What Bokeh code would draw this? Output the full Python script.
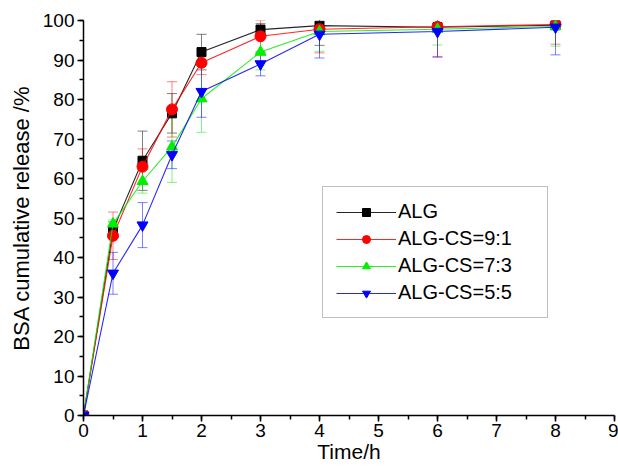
from bokeh.plotting import figure
from bokeh.models import ColumnDataSource, Whisker, TeeHead, Legend, LegendItem, FixedTicker, Range1d
from bokeh.embed import file_html
from bokeh.resources import INLINE

time_h = [0, 0.5, 1, 1.5, 2, 3, 4, 6, 8]

alg = [0, 47.0, 64.5, 76.5, 92.0, 97.7, 98.7, 98.3, 98.8]
alg_err = [0, 2.0, 7.5, 5.0, 4.5, 1.5, 5.0, 1.0, 1.0]

cs91 = [0, 45.5, 63.0, 77.5, 89.3, 96.0, 97.8, 98.4, 99.0]
cs91_err = [0, 6.0, 4.5, 7.0, 3.0, 4.0, 6.0, 7.5, 5.0]

cs73 = [0, 48.5, 59.3, 68.0, 80.2, 92.0, 97.2, 97.8, 98.5]
cs73_err = [0, 1.0, 3.0, 9.0, 8.5, 4.5, 5.0, 4.0, 5.0]

cs55 = [0, 36.0, 48.2, 66.0, 82.0, 89.0, 96.5, 97.2, 98.3]
cs55_err = [0, 5.3, 5.7, 3.5, 6.5, 3.0, 6.0, 6.5, 7.0]

series = [
    ("ALG", alg, alg_err, "#000000", "square"),
    ("ALG-CS=9:1", cs91, cs91_err, "#ff0000", "circle"),
    ("ALG-CS=7:3", cs73, cs73_err, "#00ee00", "triangle"),
    ("ALG-CS=5:5", cs55, cs55_err, "#0000ff", "inverted_triangle"),
]

FONT = "Liberation Sans"

p = figure(width=618, height=466, output_backend="svg", toolbar_location=None,
           x_range=Range1d(0, 9), y_range=Range1d(0, 100),
           min_border_left=83, min_border_right=4, min_border_top=20, min_border_bottom=51)
p.outline_line_color = None
p.xgrid.visible = False
p.ygrid.visible = False

for ax in (p.xaxis[0], p.yaxis[0]):
    ax.axis_line_color = "black"
    ax.axis_line_width = 1.5
    ax.major_tick_line_color = "black"
    ax.major_tick_line_width = 1.5
    ax.minor_tick_line_color = "black"
    ax.minor_tick_line_width = 1.5
    ax.major_tick_out = 6
    ax.major_tick_in = 0
    ax.minor_tick_out = 4
    ax.minor_tick_in = 0
    ax.major_label_text_font = FONT
    ax.major_label_text_font_size = "19px"
    ax.major_label_text_color = "black"
    ax.axis_label_text_font = FONT
    ax.axis_label_text_font_style = "normal"
    ax.axis_label_text_color = "black"

p.xaxis[0].axis_label_text_font_size = "21px"
p.yaxis[0].axis_label_text_font_size = "22px"
p.xaxis[0].ticker = FixedTicker(ticks=list(range(0, 10)), minor_ticks=[i * 0.5 for i in range(0, 19)])
p.yaxis[0].ticker = FixedTicker(ticks=list(range(0, 101, 10)), minor_ticks=list(range(0, 101, 5)))
p.xaxis[0].axis_label = "Time/h"
p.yaxis[0].axis_label = "BSA cumulative release /%"
p.xaxis[0].major_label_standoff = 2
p.xaxis[0].axis_label_standoff = 0
p.yaxis[0].major_label_standoff = 3
p.yaxis[0].axis_label_standoff = 6

items = []
for name, vals, errs, color, marker in series:
    src = ColumnDataSource(dict(
        x=time_h, y=vals,
        upper=[v + e for v, e in zip(vals, errs)],
        lower=[v - e for v, e in zip(vals, errs)],
    ))
    w = Whisker(base="x", upper="upper", lower="lower", source=src,
                line_color=color, line_alpha=0.5, line_width=1.0,
                upper_head=TeeHead(size=10, line_color=color, line_alpha=0.5, line_width=1.0),
                lower_head=TeeHead(size=10, line_color=color, line_alpha=0.5, line_width=1.0))
    p.add_layout(w)
    ln = p.line("x", "y", source=src, line_color=color, line_width=1.1, line_alpha=0.85)
    sc = p.scatter("x", "y", source=src, marker=marker, size=11 if marker != "square" else 9,
                   fill_color=color, line_color=color)
    items.append(LegendItem(label=name, renderers=[ln, sc]))

legend = Legend(items=items, location=(239, 97), label_text_font=FONT,
                label_text_font_size="20px", label_text_color="black",
                glyph_width=60, glyph_height=20, label_height=20, label_width=136,
                label_standoff=2, spacing=4, padding=13, margin=0,
                border_line_color="#808080", border_line_width=1.5,
                background_fill_alpha=1.0)
p.add_layout(legend, "center")

open("out.html", "w").write(file_html(p, INLINE))
